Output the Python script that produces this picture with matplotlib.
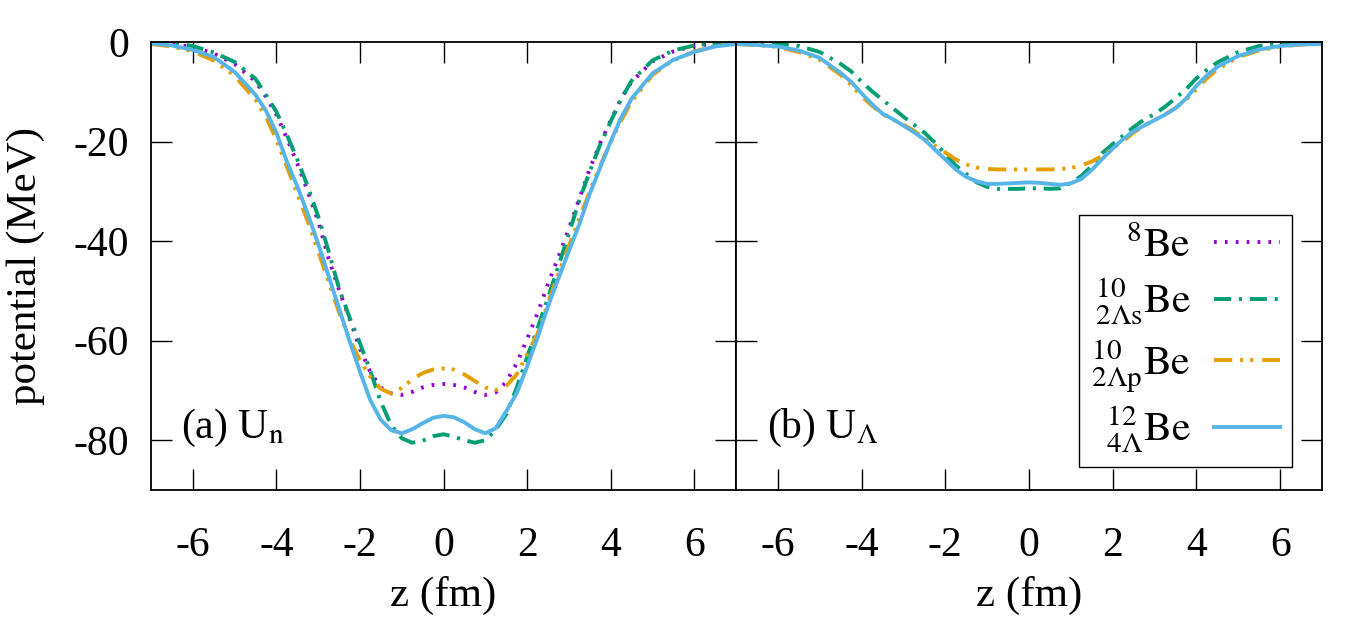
import matplotlib
matplotlib.use("Agg")
import matplotlib.pyplot as plt

plt.rcParams['font.family'] = ['Liberation Serif', 'DejaVu Serif']
plt.rcParams['mathtext.fontset'] = 'stix'
plt.rcParams['axes.unicode_minus'] = False
plt.rcParams['font.size'] = 30

# z grid (fm)
z = [-7, -6.5, -6, -5.5, -5, -4.5, -4.25, -4, -3.75, -3.5, -3.25, -3, -2.75, -2.5,
     -2.25, -2, -1.75, -1.5, -1.25, -1, -0.75, -0.5, -0.25, 0, 0.25, 0.5, 0.75, 1,
     1.25, 1.5, 1.75, 2, 2.25, 2.5, 2.75, 3, 3.25, 3.5, 3.75, 4, 4.25, 4.5, 5, 5.5,
     6, 6.5, 7]

# (a) U_n
un_be8 = [-0.1, -0.4, -1.0, -2.3, -4.4, -7.9, -11.0, -14.6, -19.3, -24.4, -30.0, -36.0,
          -43.5, -49.8, -55.5, -61.6, -66.3, -69.4, -70.6, -70.9, -70.3, -69.4, -68.9, -68.7,
          -68.9, -69.4, -70.3, -70.9, -70.4, -68.3, -64.6, -59.7, -54.5, -48.6, -43.2, -37.5,
          -31.5, -25.5, -20.3, -15.8, -11.4, -8.0, -3.9, -1.9, -0.8, -0.3, 0.0]
un_be10s = [-0.1, -0.3, -0.8, -2.1, -4.0, -7.4, -10.6, -14.0, -18.6, -23.6, -29.0, -35.0,
            -42.0, -49.5, -55.3, -60.5, -66.1, -72.3, -77.0, -79.6, -80.5, -80.1, -79.2, -78.8,
            -79.3, -80.0, -80.5, -80.0, -77.9, -74.8, -69.5, -63.3, -57.5, -51.4, -45.0, -38.5,
            -31.8, -26.0, -20.6, -16.0, -11.5, -7.8, -3.7, -1.7, -0.7, -0.2, 0.0]
un_be10p = [-0.4, -0.9, -1.9, -3.7, -6.8, -11.6, -15.0, -19.6, -25.0, -30.5, -36.0, -42.0,
            -48.2, -54.3, -59.7, -63.9, -67.3, -69.7, -70.6, -69.5, -67.8, -66.5, -65.8, -65.6,
            -65.8, -66.8, -68.1, -69.4, -69.9, -69.1, -66.8, -62.8, -58.6, -52.5, -46.5, -41.0,
            -35.5, -30.0, -24.8, -20.2, -15.8, -12.0, -6.6, -3.7, -1.9, -0.8, -0.3]
un_be12 = [-0.3, -0.7, -1.6, -3.0, -6.0, -10.6, -13.8, -18.2, -24.0, -29.0, -34.5, -40.5,
           -47.0, -53.5, -60.0, -66.2, -72.0, -75.9, -78.0, -78.6, -77.8, -76.6, -75.5, -75.1,
           -75.4, -76.4, -77.8, -78.6, -77.6, -74.2, -70.6, -65.2, -59.4, -53.1, -47.5, -42.0,
           -36.6, -30.5, -25.2, -20.0, -15.2, -11.4, -6.3, -3.6, -2.0, -0.9, -0.4]

# (b) U_Lambda
ul_be10s = [0.0, -0.1, -0.3, -0.8, -2.0, -4.4, -5.9, -8.0, -9.9, -11.6, -13.3, -15.0,
            -16.6, -18.2, -20.2, -22.5, -24.8, -26.5, -28.2, -29.1, -29.5, -29.5, -29.5, -29.4,
            -29.4, -29.5, -29.4, -28.3, -26.9, -24.9, -22.3, -20.5, -18.8, -17.1, -15.6, -14.5,
            -13.0, -11.3, -9.5, -7.3, -5.6, -4.1, -2.0, -0.8, -0.2, 0.0, 0.0]
ul_be10p = [-0.4, -0.6, -1.0, -2.0, -3.6, -6.6, -8.6, -10.9, -12.8, -14.5, -15.6, -16.6,
            -17.8, -19.4, -20.8, -22.2, -23.6, -24.6, -25.2, -25.5, -25.6, -25.6, -25.6, -25.6,
            -25.6, -25.6, -25.5, -25.3, -24.8, -24.0, -22.9, -21.3, -19.9, -18.2, -16.8, -15.7,
            -14.5, -13.3, -11.6, -9.5, -7.3, -5.5, -3.0, -1.7, -0.9, -0.5, -0.3]
ul_be12 = [-0.4, -0.6, -0.9, -1.7, -3.2, -6.2, -8.0, -10.3, -12.5, -14.4, -15.5, -16.8,
           -18.1, -19.6, -21.6, -23.6, -25.6, -27.1, -28.0, -28.5, -28.5, -28.4, -28.3, -28.2,
           -28.3, -28.5, -28.7, -28.4, -27.5, -25.7, -23.5, -21.4, -19.5, -17.9, -16.8, -15.7,
           -14.6, -13.3, -11.4, -8.8, -6.7, -5.0, -2.8, -1.5, -0.8, -0.5, -0.4]

labels = [r'${}^{8}\mathrm{Be}$', r'${}^{10}_{2\Lambda\mathrm{s}}\mathrm{Be}$',
          r'${}^{10}_{2\Lambda\mathrm{p}}\mathrm{Be}$', r'${}^{12}_{4\Lambda}\mathrm{Be}$']
colors = ['#9400d3', '#009e73', '#e69f00', '#56b4e9']
dashes = [(0.7, 2.1), (4.4, 2.0, 0.8, 2.0), (4.7, 2.0, 0.8, 1.8, 0.8, 2.3), None]
lw = 2.8

fig = plt.figure(figsize=(13.5, 6.3), dpi=100)
ax1 = fig.add_axes([151/1350, 1-490/630, 585/1350, 448/630])
ax2 = fig.add_axes([736/1350, 1-490/630, 586/1350, 448/630])


def draw(ax, ys, idx):
    for y, i in zip(ys, idx):
        if dashes[i] is None:
            ax.plot(z, y, color=colors[i], lw=lw, label=labels[i])
        else:
            ax.plot(z, y, color=colors[i], lw=lw, dashes=dashes[i], label=labels[i])


draw(ax1, [un_be8, un_be10s, un_be10p, un_be12], [0, 1, 2, 3])
draw(ax2, [ul_be10s, ul_be10p, ul_be12], [1, 2, 3])
# legend entry for 8Be in panel (b)
ax2.plot([], [], color=colors[0], lw=lw, dashes=dashes[0], label=labels[0])

for ax in (ax1, ax2):
    ax.set_xlim(-7, 7)
    ax.set_ylim(-90, 0)
    ax.set_xticks([-6, -4, -2, 0, 2, 4, 6])
    ax.set_yticks([0, -20, -40, -60, -80])
    ax.tick_params(direction='in', length=15, width=1, top=True, right=True)
    ax.tick_params(axis='x', pad=26)
    ax.tick_params(axis='y', pad=16)
    ax.set_xlabel('z (fm)', labelpad=8, fontsize=31)
    for s in ax.spines.values():
        s.set_linewidth(1.3)

ax2.tick_params(labelleft=False)
ax1.set_ylabel('potential (MeV)', labelpad=20, fontsize=31)

ax1.text(-6.28, -79.5, r'(a) U$_{\mathrm{n}}$', fontsize=30, va='baseline')
ax2.text(-6.26, -79.5, r'(b) U$_{\Lambda}$', fontsize=30, va='baseline')

h, l = ax2.get_legend_handles_labels()
order = [3, 0, 1, 2]
leg = ax2.legend([h[k] for k in order], [l[k] for k in order], loc='lower right',
                 bbox_to_anchor=(0.949, 0.051), borderaxespad=0, markerfirst=False,
                 fancybox=False, framealpha=1, edgecolor='black', handlelength=1.58,
                 handletextpad=0.55, labelspacing=0.26, borderpad=0.3, fontsize=30)
leg.get_frame().set_linewidth(1.0)

fig.savefig('out.png', dpi=100)
